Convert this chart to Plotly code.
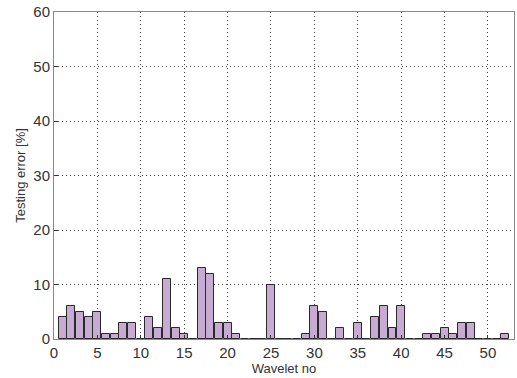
import plotly.graph_objects as go

wavelet_no = list(range(1, 53))
errors = [4, 6, 5, 4, 5, 1, 1, 3, 3, 0,
          4, 2, 11, 2, 1, 0, 13, 12, 3, 3,
          1, 0, 0, 0, 10, 0, 0, 0, 1, 6,
          5, 0, 2, 0, 3, 0, 4, 6, 2, 6,
          0, 0, 1, 1, 2, 1, 3, 3, 0, 0,
          0, 1]
x_ticks = list(range(0, 55, 5))
y_ticks = list(range(0, 70, 10))

fig = go.Figure(go.Bar(
    x=wavelet_no, y=errors, width=0.92,
    marker=dict(color="#c8abd3", line=dict(color="#2a2a2a", width=1)),
))

axis_common = dict(
    showgrid=True, gridcolor="#444", griddash="1px,3px", gridwidth=1,
    zeroline=False, showline=True, linecolor="#888", linewidth=1, mirror=True,
    ticks="inside", ticklen=4, tickcolor="#333",
    tickfont=dict(family="Liberation Sans, Arial", size=15, color="#333"),
)
fig.update_xaxes(range=[0, 53], tickvals=x_ticks, title=dict(text="Wavelet no", standoff=1,
                 font=dict(family="Liberation Sans, Arial", size=13, color="#333")), **axis_common)
fig.update_yaxes(range=[0, 60], tickvals=y_ticks, title=dict(text="Testing error [%]", standoff=4,
                 font=dict(family="Liberation Sans, Arial", size=13, color="#333")), **axis_common)

fig.update_layout(
    width=517, height=378,
    margin=dict(l=54, r=3, t=12, b=39),
    paper_bgcolor="white", plot_bgcolor="white",
    showlegend=False, bargap=0,
)
fig.write_html("out.html")
